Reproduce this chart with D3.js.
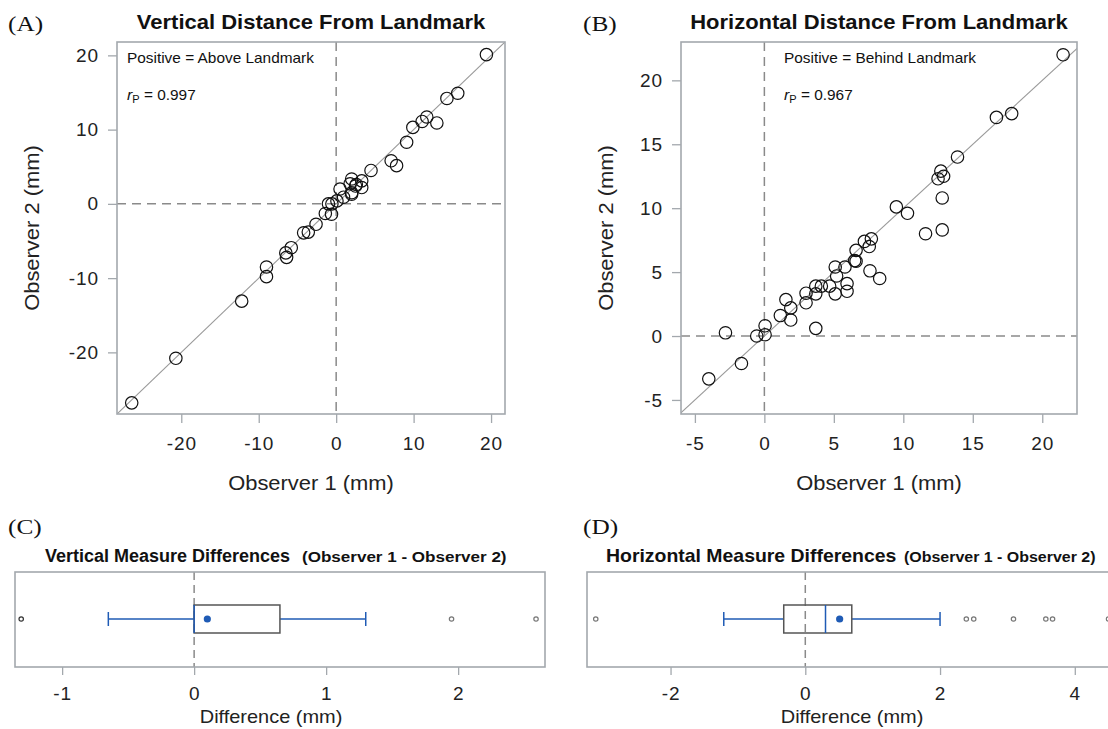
<!DOCTYPE html>
<html><head><meta charset="utf-8">
<script src="https://cdn.jsdelivr.net/npm/d3@7"></script>
<style>body{margin:0;background:#fff}svg{display:block}text{font-family:"Liberation Sans",Arial,sans-serif}</style>
</head><body><svg id="c" width="1108" height="729"></svg>
<script>
// Panel A: vertical distance (Observer 1, Observer 2)
const vertObs1 = [19.4,14.3,15.7,11.7,11.1,13.0,9.9,9.1,7.1,7.8,4.5,3.3,2.0,2.6,1.8,3.3,2.5,0.5,2.0,2.0,0.95,0.1,-0.55,-1.0,-0.6,-1.4,-2.6,-4.2,-3.6,-5.8,-6.5,-6.4,-9.0,-9.0,-12.2,-20.7,-26.4];
const vertObs2 = [20.1,14.2,14.9,11.7,11.1,10.9,10.3,8.3,5.8,5.15,4.5,3.1,3.35,2.6,2.7,2.2,2.4,2.0,1.5,1.3,0.9,0.4,0.0,0.0,-1.4,-1.3,-2.75,-3.9,-3.8,-5.9,-6.6,-7.2,-8.5,-9.8,-13.1,-20.8,-26.8];
// Panel B: horizontal distance
const horObs1 = [21.5,16.7,17.8,13.9,12.7,12.5,12.9,12.8,12.8,11.6,9.5,10.3,7.7,7.2,7.55,6.6,6.5,6.6,5.8,5.1,5.2,7.6,8.3,5.95,5.95,5.1,4.7,4.1,3.7,3.7,3.0,3.0,1.55,1.9,1.15,1.9,3.7,0.05,0.05,-0.55,-2.8,-1.65,-4.0];
const horObs2 = [22.0,17.1,17.4,14.0,12.9,12.3,12.5,10.8,8.3,8.0,10.1,9.6,7.6,7.4,7.0,6.7,5.9,5.85,5.4,5.4,4.7,5.1,4.5,4.1,3.5,3.3,3.9,3.9,3.9,3.3,3.35,2.6,2.85,2.2,1.6,1.25,0.6,0.8,0.1,0.0,0.25,-2.15,-3.35];
// Box plot summaries: [whiskerLow, Q1, median, Q3, whiskerHigh, mean]
const vertBox = [-0.65, 0.0, 0.0, 0.65, 1.30, 0.10];
const vertOutliers = [-1.31, 1.95, 2.59];
const horBox = [-1.21, -0.32, 0.30, 0.69, 2.0, 0.51];
const horOutliers = [-3.11, 2.39, 2.50, 3.09, 3.57, 3.67, 4.5];
const ticksA = [-20,-10,0,10,20];
const ticksB = [-5,0,5,10,15,20];
const ticksC = [-1,0,1,2];
const ticksD = [-2,0,2,4];

const svg = d3.select("#c");
const FRAME = "#a3a8ad", DASH = "#8a8a8a", BLUE = "#1f5bb5";
const fmt = d => String(d);

// text helper with slight horizontal stretch (reference text is wide)
function txt(parent, x, y, t, size, opts={}){
  const el = parent.append("text")
    .attr("transform",`translate(${x},${y}) ${opts.rot?`rotate(${opts.rot})`:""} scale(${opts.sx||1.1},1)`)
    .attr("text-anchor",opts.anchor||"start").style("font-size",size+"px")
    .attr("fill",opts.fill||"#111");
  if(opts.bold) el.style("font-weight","bold");
  if(opts.family) el.style("font-family",opts.family);
  if(t!==null) el.text(t);
  return el;
}
function styleAxis(a){
  a.select(".domain").remove();
  a.selectAll("line").attr("stroke",FRAME).attr("stroke-width",1.3);
  a.selectAll("text").style("font-size","19px").style("letter-spacing","0.9px").attr("fill","#222")
    .style("font-family",'"Liberation Sans",Arial,sans-serif');
}

function scatter(o){
  const g = svg.append("g");
  const x = d3.scaleLinear().domain(o.xd).range([o.l,o.r]);
  const y = d3.scaleLinear().domain(o.yd).range([o.b,o.t]);
  const id = "clip"+o.key;
  svg.append("clipPath").attr("id",id).append("rect").attr("x",o.l).attr("y",o.t).attr("width",o.r-o.l).attr("height",o.b-o.t);
  styleAxis(g.append("g").attr("transform",`translate(0,${o.b})`).call(d3.axisBottom(x).tickValues(o.ticksX).tickSize(9).tickPadding(14).tickFormat(fmt)));
  styleAxis(g.append("g").attr("transform",`translate(${o.l},0)`).call(d3.axisLeft(y).tickValues(o.ticksY).tickSize(9).tickPadding(9).tickFormat(fmt)));
  const inner = g.append("g").attr("clip-path",`url(#${id})`);
  inner.append("line").attr("x1",x(0)).attr("x2",x(0)).attr("y1",o.t).attr("y2",o.b).attr("stroke",DASH).attr("stroke-width",1.5).attr("stroke-dasharray","9,6");
  inner.append("line").attr("x1",o.l).attr("x2",o.r).attr("y1",y(0)).attr("y2",y(0)).attr("stroke",DASH).attr("stroke-width",1.5).attr("stroke-dasharray","9,6");
  const lo = Math.min(o.xd[0],o.yd[0]), hi = Math.max(o.xd[1],o.yd[1]);
  inner.append("line").attr("x1",x(lo)).attr("y1",y(lo)).attr("x2",x(hi)).attr("y2",y(hi)).attr("stroke","#9a9a9a").attr("stroke-width",1.1);
  inner.selectAll("circle").data(o.xs.map((v,i)=>[v,o.ys[i]])).join("circle")
    .attr("cx",d=>x(d[0])).attr("cy",d=>y(d[1])).attr("r",6.2).attr("fill","none").attr("stroke","#111").attr("stroke-width",1.2);
  g.append("rect").attr("x",o.l).attr("y",o.t).attr("width",o.r-o.l).attr("height",o.b-o.t).attr("fill","none").attr("stroke",FRAME).attr("stroke-width",1.6);
  txt(g,(o.l+o.r)/2,29,o.title,20,{anchor:"middle",bold:true,sx:1.1});
  txt(g,(o.l+o.r)/2,490,"Observer 1 (mm)",20.5,{anchor:"middle",fill:"#222",sx:1.07});
  txt(g,o.l-o.yTitleOff,(o.t+o.b)/2,"Observer 2 (mm)",20.5,{anchor:"middle",fill:"#222",rot:-90,sx:1.07});
  txt(g,o.noteX,63,o.note,14,{sx:1.1});
  const rt = txt(g,o.noteX,100,null,14,{sx:1.1});
  rt.append("tspan").style("font-style","italic").style("font-size","14.5px").text("r");
  rt.append("tspan").attr("dy",3).style("font-size","10px").text("P");
  rt.append("tspan").attr("dy",-3).text(" = "+o.r2);
}

function boxplot(o){
  const g = svg.append("g");
  const x = d3.scaleLinear().domain(o.xd).range([o.l,o.r]);
  const cy = 619, h = 28;
  styleAxis(g.append("g").attr("transform",`translate(0,${o.b})`).call(d3.axisBottom(x).tickValues(o.ticks).tickSize(8).tickPadding(12).tickFormat(fmt)));
  g.append("line").attr("x1",x(0)).attr("x2",x(0)).attr("y1",o.t).attr("y2",o.b).attr("stroke",DASH).attr("stroke-width",1.5).attr("stroke-dasharray","8,5");
  const [wl,q1,md,q3,wh,mn] = o.box;
  g.append("line").attr("x1",x(wl)).attr("x2",x(q1)).attr("y1",cy).attr("y2",cy).attr("stroke",BLUE).attr("stroke-width",1.5);
  g.append("line").attr("x1",x(q3)).attr("x2",x(wh)).attr("y1",cy).attr("y2",cy).attr("stroke",BLUE).attr("stroke-width",1.5);
  [wl,wh].forEach(v=>g.append("line").attr("x1",x(v)).attr("x2",x(v)).attr("y1",cy-7).attr("y2",cy+7).attr("stroke",BLUE).attr("stroke-width",1.5));
  g.append("rect").attr("x",x(q1)).attr("y",cy-h/2).attr("width",x(q3)-x(q1)).attr("height",h).attr("fill","none").attr("stroke","#555").attr("stroke-width",1.5);
  g.append("line").attr("x1",x(md)).attr("x2",x(md)).attr("y1",cy-h/2).attr("y2",cy+h/2).attr("stroke",BLUE).attr("stroke-width",1.5);
  g.append("circle").attr("cx",x(mn)).attr("cy",cy).attr("r",3.6).attr("fill",BLUE);
  g.selectAll("circle.o").data(o.out).join("circle").attr("class","o").attr("cx",d=>x(d)).attr("cy",cy).attr("r",2.2)
    .attr("fill","none").attr("stroke",(d,i)=>i===0&&o.darkFirst?"#333":"#777").attr("stroke-width",1.2);
  g.append("rect").attr("x",o.l).attr("y",o.t).attr("width",o.r-o.l).attr("height",o.b-o.t).attr("fill","none").attr("stroke",FRAME).attr("stroke-width",1.6);
  txt(g,o.titleX,562,o.title,18,{bold:true,sx:o.titleSx});
  txt(g,o.subX,562,"(Observer 1 - Observer 2)",15.5,{bold:true,sx:o.subSx});
  txt(g,o.labX,723,"Difference (mm)",19,{anchor:"middle",fill:"#222",sx:1.05});
}

const serif = '"Liberation Serif","Times New Roman",serif';
[["(A)",8,31],["(B)",583,31],["(C)",8,534],["(D)",583,534]].forEach(d=>txt(svg,d[1],d[2],d[0],22,{family:serif,sx:1.15}));
scatter({key:"A",l:117,r:505,t:42,b:414,xd:[-28.3,21.8],yd:[-28.3,21.8],ticksX:ticksA,ticksY:ticksA,xs:vertObs1,ys:vertObs2,
  title:"Vertical Distance From Landmark",note:"Positive = Above Landmark",noteX:127,r2:"0.997",yTitleOff:78});
scatter({key:"B",l:681,r:1077,t:42,b:414,xd:[-6.0,22.5],yd:[-6.1,23.0],ticksX:ticksB,ticksY:ticksB,xs:horObs1,ys:horObs2,
  title:"Horizontal Distance From Landmark",note:"Positive = Behind Landmark",noteX:784,r2:"0.967",yTitleOff:68});
boxplot({l:15,r:545,t:572,b:667,xd:[-1.357,2.658],ticks:ticksC,box:vertBox,out:vertOutliers,darkFirst:true,
  title:"Vertical Measure Differences",titleX:45,titleSx:1.0,subX:302,subSx:1.1,labX:271});
boxplot({l:587,r:1126,t:572,b:667,xd:[-3.24,4.76],ticks:ticksD,box:horBox,out:horOutliers,
  title:"Horizontal Measure Differences",titleX:606,titleSx:1.08,subX:904,subSx:1.03,labX:852});
</script></body></html>
